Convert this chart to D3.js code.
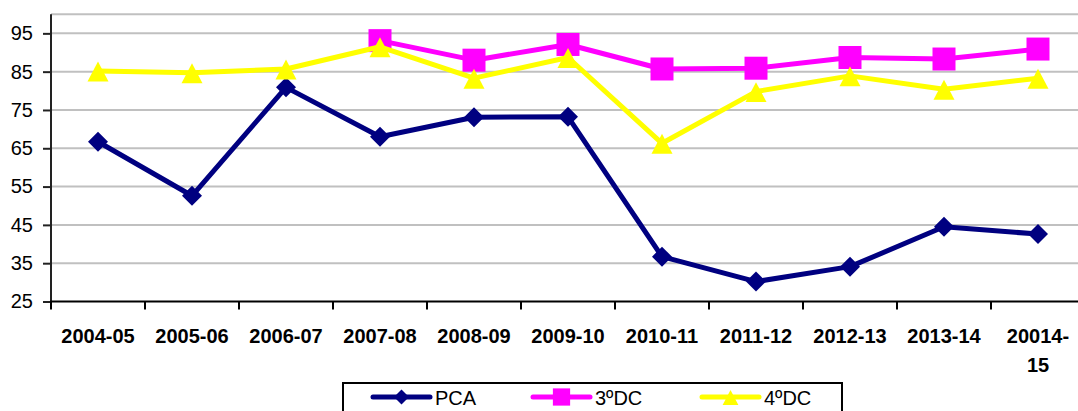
<!DOCTYPE html>
<html>
<head>
<meta charset="utf-8">
<script src="https://cdn.jsdelivr.net/npm/d3@7"></script>
<style>
  html, body { margin: 0; padding: 0; background: #fff; overflow: hidden; }
  svg { display: block; font-family: "Liberation Sans", Arial, sans-serif; }
</style>
</head>
<body>
<svg id="chart" width="1078" height="411"></svg>
<script>
// School years on the horizontal axis (last label wraps onto two lines)
const categories = ["2004-05", "2005-06", "2006-07", "2007-08", "2008-09", "2009-10",
                    "2010-11", "2011-12", "2012-13", "2013-14", "20014-15"];
const categoryLabels = [["2004-05"], ["2005-06"], ["2006-07"], ["2007-08"], ["2008-09"], ["2009-10"],
                        ["2010-11"], ["2011-12"], ["2012-13"], ["2013-14"], ["20014-", "15"]];

// Series values (null = no data for that year)
const pca    = [66.7, 52.6, 80.9, 68.0, 73.1, 73.2, 36.7, 30.2, 34.1, 44.5, 42.6];
const dc3    = [null, null, null, 93.1, 88.0, 92.1, 85.7, 85.9, 88.7, 88.3, 90.9];
const dc4    = [85.2, 84.7, 85.7, 91.5, 83.3, 88.7, 66.3, 79.8, 83.9, 80.4, 83.3];

const yTicks = [25, 35, 45, 55, 65, 75, 85, 95];
const yGrid  = [35, 45, 55, 65, 75, 85, 95, 100];

const series = [
  { name: "PCA",  values: pca, color: "#000080", marker: "diamond" },
  { name: "3ºDC", values: dc3, color: "#FF00FF", marker: "square" },
  { name: "4ºDC", values: dc4, color: "#FFFF00", marker: "triangle" }
];

const svg = d3.select("#chart");
const plotLeft = 51, plotRight = 1085, plotTop = 14.2, plotBottom = 301.5;

const x = d3.scaleBand().domain(categories).range([plotLeft, plotRight]);
const y = d3.scaleLinear().domain([25, 100]).range([plotBottom, plotTop]);

// Horizontal gridlines
svg.append("g").selectAll("line").data(yGrid).join("line")
  .attr("x1", plotLeft).attr("x2", plotRight)
  .attr("y1", d => y(d)).attr("y2", d => y(d))
  .attr("stroke", "#c0c0c0").attr("stroke-width", 2);

// Y axis
const yAxis = svg.append("g").attr("transform", `translate(${plotLeft},0)`)
  .call(d3.axisLeft(y).tickValues(yTicks).tickSize(8).tickPadding(10).tickFormat(d3.format("d")));
yAxis.select(".domain").attr("d", `M0,${plotTop}V${plotBottom}`).attr("stroke", "#222").attr("stroke-width", 2);
yAxis.selectAll(".tick line").attr("stroke", "#222").attr("stroke-width", 2);
yAxis.selectAll(".tick text").attr("font-size", 20).attr("fill", "#000")
  .attr("font-family", "Liberation Sans, Arial, sans-serif");

// X axis with ticks on band boundaries
const xAxis = svg.append("g").attr("transform", `translate(0,${plotBottom})`);
xAxis.append("line").attr("x1", plotLeft - 1).attr("x2", plotRight).attr("y1", 0).attr("y2", 0)
  .attr("stroke", "#000").attr("stroke-width", 2);
xAxis.selectAll("line.tk").data(categories).join("line").attr("class", "tk")
  .attr("x1", d => x(d)).attr("x2", d => x(d)).attr("y1", 0).attr("y2", 8)
  .attr("stroke", "#000").attr("stroke-width", 2);
xAxis.selectAll("text").data(categories).join("text")
  .attr("x", d => x(d) + x.bandwidth() / 2)
  .attr("text-anchor", "middle")
  .attr("font-size", 20).attr("font-weight", "bold").attr("fill", "#000")
  .each(function(d, i) {
    const t = d3.select(this);
    categoryLabels[i].forEach((line, k) => {
      t.append("tspan").attr("x", x(d) + x.bandwidth() / 2).attr("y", 41 + k * 29).text(line);
    });
  });

// Marker shapes
function markerPath(type, s) {
  if (type === "diamond") return `M0,${-s}L${s},0L0,${s}L${-s},0Z`;
  if (type === "square") return `M${-s},${-s}H${s}V${s}H${-s}Z`;
  return `M0,${-s * 0.9}L${s},${s}L${-s},${s}Z`;
}
const markerSize = { diamond: 10, square: 11.5, triangle: 10.5 };

const cx = (i) => x(categories[i]) + x.bandwidth() / 2;

series.forEach(s => {
  const pts = s.values.map((v, i) => ({ v, i })).filter(p => p.v != null);
  const line = d3.line().x(p => cx(p.i)).y(p => y(p.v));
  svg.append("path").datum(pts).attr("d", line)
    .attr("fill", "none").attr("stroke", s.color).attr("stroke-width", 5)
    .attr("stroke-linejoin", "round");
  svg.append("g").selectAll("path").data(pts).join("path")
    .attr("transform", p => `translate(${cx(p.i)},${y(p.v)})`)
    .attr("d", markerPath(s.marker, markerSize[s.marker]))
    .attr("fill", s.color);
});

// Legend
const legend = svg.append("g");
legend.append("rect").attr("x", 343).attr("y", 383).attr("width", 499).attr("height", 40)
  .attr("fill", "#fff").attr("stroke", "#000").attr("stroke-width", 2);
const legendX = [373, 533, 702];
series.forEach((s, k) => {
  const g = legend.append("g").attr("transform", `translate(${legendX[k]},397)`);
  g.append("line").attr("x1", 0).attr("x2", 57).attr("y1", 0).attr("y2", 0)
    .attr("stroke", s.color).attr("stroke-width", 5).attr("stroke-linecap", "round");
  g.append("path").attr("transform", "translate(28.5,0)")
    .attr("d", markerPath(s.marker, markerSize[s.marker] * 0.75)).attr("fill", s.color);
  g.append("text").attr("x", 62).attr("y", 8).attr("font-size", 20).attr("fill", "#000").text(s.name);
});
</script>
</body>
</html>
